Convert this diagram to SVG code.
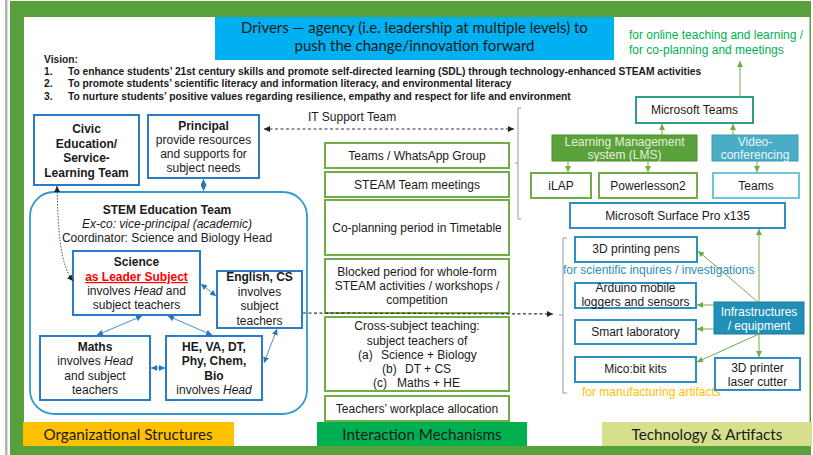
<svg xmlns="http://www.w3.org/2000/svg" width="813" height="455" viewBox="0 0 813 455">
<defs>
<style>
.t{font-family:"Liberation Sans",Arial,sans-serif;font-size:12px;fill:#1a1a1a}
.c{text-anchor:middle}
.b{font-weight:bold}
.i{font-style:italic}
.cal{font-family:Lato,"Open Sans",sans-serif;font-size:15.2px;fill:#1a1a1a}
.bl{fill:#fff;stroke:#2b7bc7;stroke-width:2}
.gb{fill:#fff;stroke:#70ad47;stroke-width:2}
.rb{fill:#fff;stroke:#2e8fc2;stroke-width:2}
.vis{font-family:"Liberation Sans",Arial,sans-serif;font-size:10.25px;font-weight:bold;fill:#1a1a1a}
.bc{fill:none;stroke:#4a8fd0;stroke-width:1}
.gc{fill:none;stroke:#70ad47;stroke-width:1}
.dc{fill:none;stroke:#333;stroke-width:1.2;stroke-dasharray:3 2.5}
.br{fill:none;stroke:#999;stroke-width:1}
</style>
<marker id="ab" viewBox="0 0 10 10" refX="10" refY="5" markerWidth="6" markerHeight="6" markerUnits="userSpaceOnUse" orient="auto-start-reverse"><path d="M0,0 L10,5 L0,10 z" fill="#2e75b6"/></marker>
<marker id="ag" viewBox="0 0 10 10" refX="10" refY="5" markerWidth="6" markerHeight="6" markerUnits="userSpaceOnUse" orient="auto-start-reverse"><path d="M0,0 L10,5 L0,10 z" fill="#70ad47"/></marker>
<marker id="ak" viewBox="0 0 10 10" refX="10" refY="5" markerWidth="6" markerHeight="6" markerUnits="userSpaceOnUse" orient="auto-start-reverse"><path d="M0,0 L10,5 L0,10 z" fill="#222"/></marker>
</defs>

<!-- frame -->
<rect x="0" y="0" width="813" height="455" fill="#fff"/>
<rect x="5" y="0" width="2.5" height="455" fill="#b3b3b3"/>
<rect x="10" y="1" width="801" height="16" fill="#58a03b"/>
<rect x="10" y="1" width="14" height="454" fill="#58a03b"/>
<rect x="10" y="446" width="801" height="9" fill="#58a03b"/>
<rect x="809.5" y="1" width="1.5" height="454" fill="#58a03b"/>

<!-- title -->
<g id="title">
<rect x="215" y="17" width="399" height="43" fill="#00b0f0"/>
<text class="cal c" x="414.5" y="33" style="font-size:15px">Drivers — agency (i.e. leadership at multiple levels) to</text>
<text class="cal c" x="414.5" y="51" style="font-size:15px">push the change/innovation forward</text>
</g>

<g id="vision">
<text class="vis" x="44" y="63">Vision:</text>
<text class="vis" x="44" y="75">1.</text>
<text class="vis" x="68" y="75">To enhance students’ 21st century skills and promote self-directed learning (SDL) through technology-enhanced STEAM activities</text>
<text class="vis" x="44" y="87">2.</text>
<text class="vis" x="68" y="87">To promote students’ scientific literacy and information literacy, and environmental literacy</text>
<text class="vis" x="44" y="99.5">3.</text>
<text class="vis" x="68" y="99.5">To nurture students’ positive values regarding resilience, empathy and respect for life and environment</text>
</g>

<text class="t" x="629" y="39" style="fill:#00b050">for online teaching and learning /</text>
<text class="t" x="629" y="54" style="fill:#00b050">for co-planning and meetings</text>

<!-- left: organizational -->
<g id="civic">
<rect class="bl" x="34" y="115" width="105" height="70"/>
<text class="t b c" x="86.5" y="133">Civic</text>
<text class="t b c" x="86.5" y="147.5">Education/</text>
<text class="t b c" x="86.5" y="162">Service-</text>
<text class="t b c" x="86.5" y="176.5">Learning Team</text>
</g>
<g id="principal">
<rect class="bl" x="148" y="115" width="111" height="63"/>
<text class="t b c" x="203.5" y="130">Principal</text>
<text class="t c" x="203.5" y="144">provide resources</text>
<text class="t c" x="203.5" y="158">and supports for</text>
<text class="t c" x="203.5" y="172">subject needs</text>
</g>
<g id="stem">
<rect x="30" y="192" width="277" height="222" rx="24" fill="none" stroke="#3399cc" stroke-width="1.8"/>
<text class="t b c" x="167" y="214">STEM Education Team</text>
<text class="t i c" x="167" y="228">Ex-co: vice-principal (academic)</text>
<text class="t c" x="167" y="242">Coordinator: Science and Biology Head</text>
</g>
<g id="science">
<rect class="bl" x="73" y="251" width="127" height="64"/>
<text class="t b c" x="136.5" y="266">Science</text>
<text class="t b c" x="136.5" y="281" style="fill:#ff0000;text-decoration:underline">as Leader Subject</text>
<text class="t c" x="136.5" y="295">involves <tspan class="i">Head</tspan> and</text>
<text class="t c" x="136.5" y="309">subject teachers</text>
</g>
<g id="english">
<rect class="bl" x="217" y="271" width="85" height="57"/>
<text class="t b c" x="259.5" y="281">English, CS</text>
<text class="t c" x="259.5" y="296">involves</text>
<text class="t c" x="259.5" y="310">subject</text>
<text class="t c" x="259.5" y="325">teachers</text>
</g>
<g id="maths">
<rect class="bl" x="40" y="336" width="110" height="64"/>
<text class="t b c" x="95" y="351">Maths</text>
<text class="t c" x="95" y="365">involves <tspan class="i">Head</tspan></text>
<text class="t c" x="95" y="380">and subject</text>
<text class="t c" x="95" y="394">teachers</text>
</g>
<g id="he">
<rect class="bl" x="166" y="336" width="96" height="64"/>
<text class="t b c" x="214" y="351">HE, VA, DT,</text>
<text class="t b c" x="214" y="365">Phy, Chem,</text>
<text class="t b c" x="214" y="380">Bio</text>
<text class="t c" x="214" y="394">involves <tspan class="i">Head</tspan></text>
</g>

<!-- middle: interaction -->
<text class="t" x="308" y="121">IT Support Team</text>
<g id="teams-wa">
<rect class="gb" x="325" y="143" width="184" height="25"/>
<text class="t c" x="417" y="160">Teams / WhatsApp Group</text>
</g>
<g id="steam-meet">
<rect class="gb" x="325" y="172" width="184" height="25"/>
<text class="t c" x="417" y="188.5">STEAM Team meetings</text>
</g>
<g id="coplan">
<rect class="gb" x="325" y="200" width="184" height="55"/>
<text class="t c" x="417" y="232">Co-planning period in Timetable</text>
</g>
<g id="blocked">
<rect class="gb" x="325" y="259" width="184" height="54"/>
<text class="t c" x="417" y="276">Blocked period for whole-form</text>
<text class="t c" x="417" y="290">STEAM activities / workshops /</text>
<text class="t c" x="417" y="304">competition</text>
</g>
<g id="cross">
<rect class="gb" x="325" y="317" width="184" height="74"/>
<text class="t c" x="417" y="330">Cross-subject teaching:</text>
<text class="t c" x="417" y="344.5">subject teachers of</text>
<text class="t" x="358" y="358.5">(a)</text>
<text class="t" x="381" y="358.5">Science + Biology</text>
<text class="t" x="382" y="373">(b)</text>
<text class="t" x="405" y="373">DT + CS</text>
<text class="t" x="373" y="387">(c)</text>
<text class="t" x="397" y="387">Maths + HE</text>
</g>
<g id="workplace">
<rect class="gb" x="325" y="396" width="184" height="25"/>
<text class="t c" x="417" y="412.5">Teachers’ workplace allocation</text>
</g>

<!-- right: technology -->
<g id="ms-teams">
<rect x="636" y="97" width="117" height="26" fill="#fff" stroke="#2e9e88" stroke-width="2"/>
<text class="t c" x="694.5" y="114">Microsoft Teams</text>
</g>
<g id="lms">
<rect x="552" y="135" width="145" height="26" fill="#5aa13b" stroke="#4e8f33" stroke-width="1"/>
<text class="t c" x="624.5" y="146" style="fill:#e4f0dc">Learning Management</text>
<text class="t c" x="624.5" y="159" style="fill:#e4f0dc">system (LMS)</text>
</g>
<g id="video">
<rect x="712" y="135" width="86" height="26" fill="#4bacc6" stroke="#3e9ab3" stroke-width="1"/>
<text class="t c" x="755" y="146" style="fill:#eaf6f9">Video-</text>
<text class="t c" x="755" y="159" style="fill:#eaf6f9">conferencing</text>
</g>
<g id="ilap">
<rect class="gb" x="531" y="173" width="60" height="25"/>
<text class="t c" x="561" y="190">iLAP</text>
</g>
<g id="powerlesson">
<rect class="gb" x="599" y="173" width="98" height="25"/>
<text class="t c" x="648" y="190">Powerlesson2</text>
</g>
<g id="teams2">
<rect x="713" y="173" width="86" height="25" fill="#fff" stroke="#6cc8d8" stroke-width="2"/>
<text class="t c" x="756" y="190">Teams</text>
</g>
<g id="surface">
<rect class="rb" x="570" y="203" width="215" height="25"/>
<text class="t c" x="677.5" y="220">Microsoft Surface Pro x135</text>
</g>
<g id="pens">
<rect class="rb" x="575" y="237" width="122" height="25"/>
<text class="t c" x="636" y="253">3D printing pens</text>
</g>
<text class="t" x="563" y="274" style="fill:#2e8fb5">for scientific inquires / investigations</text>
<g id="arduino">
<rect class="rb" x="575" y="283" width="121" height="25"/>
<text class="t c" x="635.5" y="292">Arduino mobile</text>
<text class="t c" x="635.5" y="306">loggers and sensors</text>
</g>
<g id="smartlab">
<rect class="rb" x="575" y="320" width="121" height="24"/>
<text class="t c" x="635.5" y="336">Smart laboratory</text>
</g>
<g id="microbit">
<rect class="rb" x="575" y="357" width="121" height="25"/>
<text class="t c" x="635.5" y="373">Mico:bit kits</text>
</g>
<text class="t" x="582" y="396" style="fill:#ffc000">for manufacturing artifacts</text>
<g id="infra">
<rect x="714" y="302" width="90" height="32" fill="#2190b8" stroke="#1b7aa0" stroke-width="1"/>
<text class="t c" x="759" y="316" style="fill:#fff">Infrastructures</text>
<text class="t c" x="759" y="329.5" style="fill:#fff">/ equipment</text>
</g>
<g id="printer">
<rect class="rb" x="715" y="358" width="85" height="32"/>
<text class="t c" x="757.5" y="372">3D printer</text>
<text class="t c" x="757.5" y="386">laser cutter</text>
</g>

<!-- bottom labels -->
<g id="lbl-org">
<rect x="23" y="422" width="211" height="24" fill="#ffc000"/>
<text class="cal c" x="128" y="439.5">Organizational Structures</text>
</g>
<g id="lbl-int">
<rect x="317" y="422" width="210" height="24" fill="#00b050"/>
<text class="cal c" x="422" y="439.5">Interaction Mechanisms</text>
</g>
<g id="lbl-tech">
<rect x="602" y="422" width="210" height="24" fill="#d6e08c"/>
<text class="cal c" x="707" y="439.5">Technology &amp; Artifacts</text>
</g>

<!-- connectors -->
<g id="connectors">
<path class="br" d="M521,108 L518,108 L518,219 L521,219 M518,163 L515,163"/>
<path class="br" d="M567,238 L563,238 L563,393 L567,393 M563,315 L559,315"/>
<path class="dc" d="M264,129 L514,129" marker-start="url(#ak)" marker-end="url(#ak)"/>
<path class="dc" d="M303,313 L553,314" marker-end="url(#ak)"/>
<path d="M57,186 C58,230 60,265 73,281" fill="none" stroke="#555" stroke-width="1" stroke-dasharray="1.5 1.5" marker-start="url(#ak)" marker-end="url(#ak)"/>
<path class="bc" d="M203.5,179 L203.5,191" marker-start="url(#ab)" marker-end="url(#ab)"/>
<path class="bc" d="M201,284 L216,296" marker-start="url(#ab)" marker-end="url(#ab)"/>
<path class="bc" d="M142,316 L97,335" marker-start="url(#ab)" marker-end="url(#ab)"/>
<path class="bc" d="M168,316 L212,335" marker-start="url(#ab)" marker-end="url(#ab)"/>
<path class="bc" d="M151,368 L165,368" marker-start="url(#ab)" marker-end="url(#ab)"/>
<path class="bc" d="M277,329 L264,363" marker-start="url(#ab)" marker-end="url(#ab)"/>
<path class="gc" d="M740,97 L740,61" marker-end="url(#ag)"/>
<path class="gc" d="M662,135 L662,124" marker-end="url(#ag)"/>
<path class="gc" d="M733,135 L733,124" marker-end="url(#ag)"/>
<path class="gc" d="M568,161 L568,172" marker-end="url(#ag)"/>
<path class="gc" d="M648,161 L648,172" marker-end="url(#ag)"/>
<path class="gc" d="M757,161 L757,172" marker-end="url(#ag)"/>
<path class="gc" d="M759,302 L759,229" marker-end="url(#ag)"/>
<path class="gc" d="M758,302 L698,251" marker-end="url(#ag)"/>
<path class="gc" d="M714,305 L697,305" marker-end="url(#ag)"/>
<path class="gc" d="M714,329 L697,329" marker-end="url(#ag)"/>
<path class="gc" d="M759,334 L697,362" marker-end="url(#ag)"/>
<path class="gc" d="M759,334 L759,357" marker-end="url(#ag)"/>
</g>
</svg>
